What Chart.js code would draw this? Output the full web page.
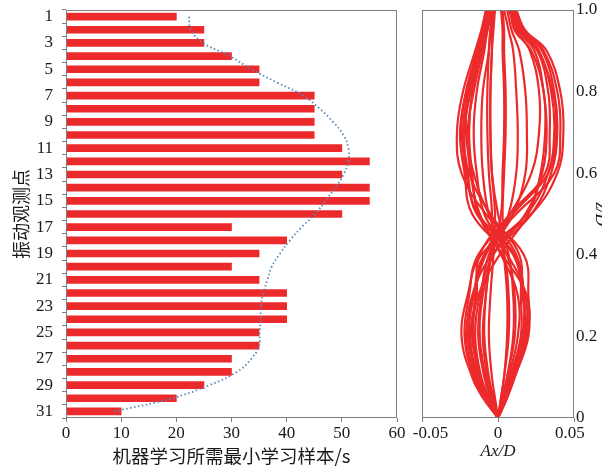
<!DOCTYPE html>
<html>
<head>
<meta charset="utf-8">
<script src="https://cdn.jsdelivr.net/npm/chart.js@4.4.0/dist/chart.umd.min.js"></script>
<style>
  html, body { margin: 0; padding: 0; background: #fff; }
  #wrap { position: relative; width: 602px; height: 467px; overflow: hidden; }
  #left { position: absolute; left: 0; top: 0; }
  #right { position: absolute; left: 400px; top: 0; }
</style>
</head>
<body>
<div id="wrap">
  <canvas id="left" width="410" height="467"></canvas>
  <canvas id="right" width="202" height="467"></canvas>
</div>
<script>
// ============================================================
// DATA
// ============================================================
const POINTS = ['1','2','3','4','5','6','7','8','9','10','11','12','13','14','15','16',
  '17','18','19','20','21','22','23','24','25','26','27','28','29','30','31'];

// minimum learning samples per observation point (s)
const SAMPLES = [20, 25, 25, 30, 35, 35, 45, 45, 45, 45, 50, 55, 50, 55, 55, 50,
  30, 40, 35, 30, 35, 40, 40, 40, 35, 35, 30, 30, 25, 20, 10];

// dotted trend curve
const TREND = [22.3, 22.6, 24.8, 29.7, 33.6, 38.2, 43, 46, 48.4, 50.3, 51.2, 51.2, 50.3, 48.8, 47, 45.2,
  42.7, 40.6, 38.8, 37.3, 36.5, 35.8, 35.3, 35.3, 35.1, 35, 33.6, 31, 26, 19.3, 8.8];

const X_TICKS = [0, 10, 20, 30, 40, 50, 60];

// right panel: height z/D and amplitude Ax/D of each profile
const Z = [0, 0.05, 0.1, 0.2, 0.3, 0.4, 0.5, 0.6, 0.7, 0.8, 0.9, 0.95, 1.0];

const PROFILES = [
  [0, -.010, -.017, -.024, -.020, -.011, .022, .039, .043, .041, .032, .018, .012],
  [0, -.009, -.016, -.022, -.019, -.013, .012, .037, .041, .039, .030, .017, .011],
  [0, -.009, -.014, -.020, -.017, -.004, .022, .035, .039, .037, .029, .016, .010],
  [0, -.008, -.013, -.019, -.016, -.009, .019, .033, .037, .035, .027, .015, .009],
  [0, -.007, -.012, -.017, -.014, -.012, .008, .031, .034, .033, .026, .014, .008],
  [0, -.006, -.011, -.015, -.012, -.003, .018, .029, .032, .030, .024, .013, .007],
  [0, -.005, -.009, -.013, -.011, -.006, .010, .018, .019, .018, .014, .009, .006],
  [0, -.004, -.007, -.010, -.008, -.004, .007, .012, .013, .012, .010, .007, .004],
  [0, -.009, -.015, -.021, -.016, -.008, .010, .033, .038, .036, .026, .013, .010],
  [0, -.008, -.014, -.018, -.013, .001, .020, .028, .031, .030, .022, .011, .008],
  [0, -.006, -.012, -.016, -.015, -.009, .008, .022, .027, .027, .021, .012, .009],
  [0, .006, .011, .020, .020, .017, -.008, -.024, -.027, -.023, -.015, -.011, -.008],
  [0, .006, .010, .018, .018, .006, -.017, -.022, -.025, -.021, -.014, -.010, -.007],
  [0, .005, .009, .017, .017, .011, -.013, -.021, -.023, -.020, -.013, -.009, -.006],
  [0, .005, .008, .015, .015, .014, -.005, -.019, -.022, -.018, -.012, -.009, -.005],
  [0, .004, .007, .013, .013, .002, -.013, -.017, -.019, -.017, -.011, -.008, -.004],
  [0, .003, .006, .010, .010, .006, -.009, -.014, -.016, -.014, -.009, -.007, -.003],
  [0, .002, .004, .007, .007, .004, -.006, -.010, -.011, -.010, -.006, -.005, -.002],
  [0, .005, .009, .018, .016, .010, -.014, -.020, -.024, -.021, -.013, -.010, -.007],
  [0, .004, .008, .016, .017, .012, -.006, -.016, -.021, -.019, -.012, -.008, -.006],
  [0, .006, .011, .019, .019, .003, -.012, -.018, -.020, -.016, -.010, -.007, -.005],
  [0, -.003, -.006, -.009, -.008, -.005, -.004, -.006, -.007, -.007, -.006, -.005, -.004],
  [0, -.002, -.004, -.006, -.005, -.003, -.002, -.004, -.005, -.005, -.004, -.004, -.003],
  [0, -.004, -.008, -.012, -.010, -.004, .002, .003, .004, .004, .003, .003, .002],
  [0, .002, .004, .006, .006, .004, .003, .004, .005, .005, .004, .004, .003],
  [0, .003, .006, .011, .011, .007, .000, -.004, -.005, -.005, -.004, -.003, -.002]
];

const AMP_TICKS = [-0.05, 0, 0.05];
const AMP_LABELS = ['\u2003-0.05', '0', '0.05\u2002'];
const Z_TICKS = [0, 0.2, 0.4, 0.6, 0.8, 1.0];

// ============================================================
// STYLE
// ============================================================
const RED = '#ec2a2b';
const BLUE = '#5587b8';
const AXIS = '#7f7f7f';
const TEXT = '#1a1a1a';
const SERIF = '"Liberation Serif", "Times New Roman", serif';
const CJK = '"Noto Sans CJK SC", sans-serif';

Chart.defaults.animation = false;
Chart.defaults.font.family = SERIF;
Chart.defaults.color = TEXT;

// box around the plot area
const frame = {
  id: 'frame',
  afterDraw(chart) {
    const { ctx, chartArea: a } = chart;
    ctx.save();
    ctx.strokeStyle = AXIS;
    ctx.lineWidth = 1;
    ctx.strokeRect(Math.round(a.left) + 0.5, Math.round(a.top) + 0.5,
      Math.round(a.width) - 1, Math.round(a.height) - 1);
    ctx.restore();
  }
};

// fixed axis sizes, no label overflow padding
function fixHeight(h) {
  return s => { s.height = h; s.paddingLeft = 0; s.paddingRight = 0; };
}
function fixWidth(w) {
  return s => { s.width = w; s.paddingTop = 0; s.paddingBottom = 0; };
}

// ============================================================
// LEFT: bar chart
// ============================================================
new Chart(document.getElementById('left'), {
  type: 'bar',
  data: {
    labels: POINTS,
    datasets: [
      {
        type: 'line',
        data: TREND,
        borderColor: BLUE,
        borderWidth: 1.8,
        borderDash: [1.5, 2.5],
        pointRadius: 0,
        tension: 0.4,
        fill: false,
        order: 0
      },
      {
        data: SAMPLES,
        backgroundColor: RED,
        barThickness: 7,
        order: 1
      }
    ]
  },
  options: {
    responsive: false,
    indexAxis: 'y',
    layout: { padding: { left: 0, top: 10, right: 13, bottom: 0 } },
    plugins: { legend: { display: false }, tooltip: { enabled: false } },
    scales: {
      x: {
        min: 0, max: 60,
        afterBuildTicks: s => { s.ticks = X_TICKS.map(v => ({ value: v })); },
        afterFit: fixHeight(49),
        ticks: { font: { size: 17 }, padding: 1, maxRotation: 0 },
        grid: { drawOnChartArea: false, tickLength: 4, color: AXIS },
        border: { display: false },
        title: {
          display: true,
          text: '机器学习所需最小学习样本/s',
          font: { family: CJK, size: 18.5 },
          padding: { top: 0, bottom: 0 }
        }
      },
      y: {
        afterFit: fixWidth(66),
        ticks: {
          autoSkip: false,
          font: { size: 17 },
          padding: 9,
          callback: (v, i) => (i % 2 === 0 ? POINTS[i] : '')
        },
        grid: { drawOnChartArea: false, tickLength: 4, color: AXIS },
        border: { display: false },
        title: {
          display: true,
          text: '振动观测点',
          font: { family: CJK, size: 18 },
          padding: { top: 10, bottom: 0 }
        }
      }
    }
  },
  plugins: [frame]
});

// ============================================================
// RIGHT: amplitude profiles
// ============================================================
new Chart(document.getElementById('right'), {
  type: 'scatter',
  data: {
    datasets: PROFILES.map(xs => ({
      data: xs.map((x, i) => ({ x, y: Z[i] })),
      showLine: true,
      borderColor: RED,
      borderWidth: 2.2,
      pointRadius: 0,
      tension: 0.4
    }))
  },
  options: {
    responsive: false,
    layout: { padding: { left: 22, top: 10, right: 0, bottom: 0 } },
    plugins: { legend: { display: false }, tooltip: { enabled: false } },
    scales: {
      x: {
        min: -0.05, max: 0.05,
        afterBuildTicks: s => { s.ticks = AMP_TICKS.map(v => ({ value: v })); },
        afterFit: fixHeight(49),
        ticks: {
          font: { size: 17 }, padding: 1, maxRotation: 0,
          callback: (v, i) => AMP_LABELS[i]
        },
        grid: { drawOnChartArea: false, tickLength: 4, color: AXIS },
        border: { display: false },
        title: {
          display: true,
          text: 'Ax/D',
          font: { size: 17, style: 'italic' },
          padding: { top: 0, bottom: 5 }
        }
      },
      y: {
        position: 'right',
        min: 0, max: 1,
        afterBuildTicks: s => { s.ticks = Z_TICKS.map(v => ({ value: v })); },
        afterFit: fixWidth(28),
        ticks: {
          font: { size: 17 }, padding: 2,
          callback: v => (v === 0 ? '0' : v.toFixed(1))
        },
        grid: { drawOnChartArea: false, drawTicks: false },
        border: { display: false },
        title: {
          display: true,
          text: 'z/D',
          font: { size: 17, style: 'italic' },
          padding: { top: -9, bottom: 0 }
        }
      }
    }
  },
  plugins: [frame]
});
</script>
</body>
</html>
